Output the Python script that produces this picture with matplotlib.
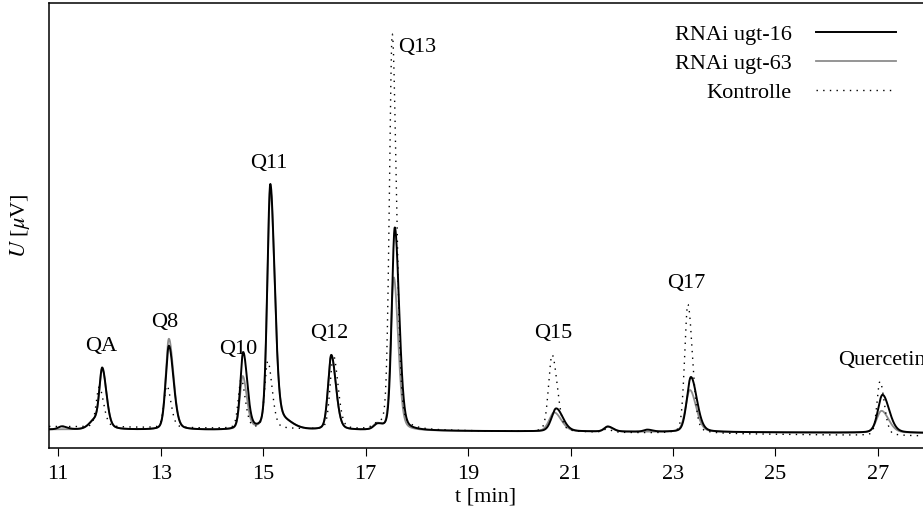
import numpy as np
import matplotlib
matplotlib.use("Agg")
import matplotlib.pyplot as plt

plt.rcParams['font.family'] = ['Liberation Serif', 'DejaVu Serif']
plt.rcParams['mathtext.fontset'] = 'stix'

# peak tables: retention time [min], height above baseline, FWHM [min]
ugt16_t = [11.07, 11.72, 11.86, 13.16, 14.61, 15.14, 15.42, 16.33, 17.23, 17.57, 20.72, 21.73, 22.50, 23.35, 27.09]
ugt16_h = [3, 9, 56, 84, 77, 245, 6, 75, 5, 203, 23, 5, 2, 55, 38]
ugt16_w = [0.20, 0.32, 0.16, 0.18, 0.16, 0.17, 0.35, 0.18, 0.20, 0.17, 0.26, 0.20, 0.20, 0.23, 0.26]

ugt63_t = [11.72, 11.86, 13.16, 14.60, 15.14, 15.42, 16.33, 17.22, 17.55, 20.68, 21.72, 23.33, 27.07]
ugt63_h = [9, 55, 91, 53, 240, 6, 74, 6, 153, 19, 5, 42, 22]
ugt63_w = [0.32, 0.16, 0.18, 0.16, 0.17, 0.35, 0.18, 0.20, 0.17, 0.28, 0.20, 0.24, 0.28]

kontrolle_t = [11.80, 13.12, 14.57, 15.09, 16.37, 17.20, 17.52, 20.64, 21.70, 23.29, 27.04]
kontrolle_h = [40, 42, 49, 67, 74, 3, 396, 77, 3, 129, 54]
kontrolle_w = [0.17, 0.16, 0.16, 0.17, 0.18, 0.20, 0.16, 0.20, 0.20, 0.18, 0.17]

# baseline level at start / end of the run
ugt16_base = (18.5, 15)
ugt63_base = (18.5, 15)
kontrolle_base = (21.5, 12)

peak_labels = ["QA", "Q8", "Q10", "Q11", "Q12", "Q13", "Q15", "Q17", "Quercetin"]
label_t = [11.83, 13.08, 14.51, 15.12, 16.29, 17.52, 20.67, 23.25, 27.08]

t_min, t_max = 10.82, 27.88
t = np.linspace(t_min, t_max, 4000)


def trace(times, heights, widths, base, tail=1.45, eta=0.25):
    y = np.linspace(base[0], base[1], len(t))
    for t0, h, w in zip(times, heights, widths):
        s = w / 2.3548 * 2 / (1 + tail)
        sig = np.where(t < t0, s, s * tail)
        g = np.exp(-0.5 * ((t - t0) / sig) ** 2)
        lor = 1 / (1 + ((t - t0) / (sig * 1.1774)) ** 2)
        y = y + h * ((1 - eta) * g + eta * lor)
    return y


y16 = trace(ugt16_t, ugt16_h, ugt16_w, ugt16_base)
y63 = trace(ugt63_t, ugt63_h, ugt63_w, ugt63_base)
yk = trace(kontrolle_t, kontrolle_h, kontrolle_w, kontrolle_base)

fig = plt.figure(figsize=(9.23, 5.14), dpi=100)
ax = fig.add_axes([49 / 923, 1 - 448 / 514, (923 - 49) / 923, (448 - 3) / 514])

ax.plot(t, y16, color='black', lw=1.4, zorder=3, label='RNAi ugt-16')
ax.plot(t, y63, color='#8c8c8c', lw=1.3, zorder=2, label='RNAi ugt-63')
ax.plot(t, yk, color='black', lw=1.0, linestyle=(0, (1, 3.8)), zorder=4, label='Kontrolle')

ax.set_xlim(t_min, t_max)
ax.set_ylim(0, 445)

# peak names above the highest trace
for name, tl in zip(peak_labels, label_t):
    i = np.argmin(np.abs(t - tl))
    lo, hi = max(i - 15, 0), i + 15
    top = max(y16[lo:hi].max(), y63[lo:hi].max(), yk[lo:hi].max())
    if name == "Q13":
        ax.text(tl + 0.12, top - 13, name, ha='left', va='center', fontsize=16)
    else:
        ax.text(tl, top + 21, name, ha='center', va='center', fontsize=16, clip_on=False)

ax.set_xticks(np.arange(11, 28, 2))
ax.set_yticks([])
ax.tick_params(axis='x', direction='out', length=6, width=0.8, labelsize=16, pad=6)
ax.spines['right'].set_visible(False)
for sp in ['left', 'top', 'bottom']:
    ax.spines[sp].set_linewidth(1.1)

ax.set_xlabel('t [min]', fontsize=16, labelpad=3)
ax.set_ylabel(r'$U$ [$\mu$V]', fontsize=16, labelpad=12)

ax.legend(loc='upper right', frameon=False, markerfirst=False, fontsize=16,
          handlelength=3.6, handletextpad=1.1, labelspacing=0.38,
          borderaxespad=0.8, bbox_to_anchor=(1.0, 1.012))

fig.savefig('out.png', dpi=100)
